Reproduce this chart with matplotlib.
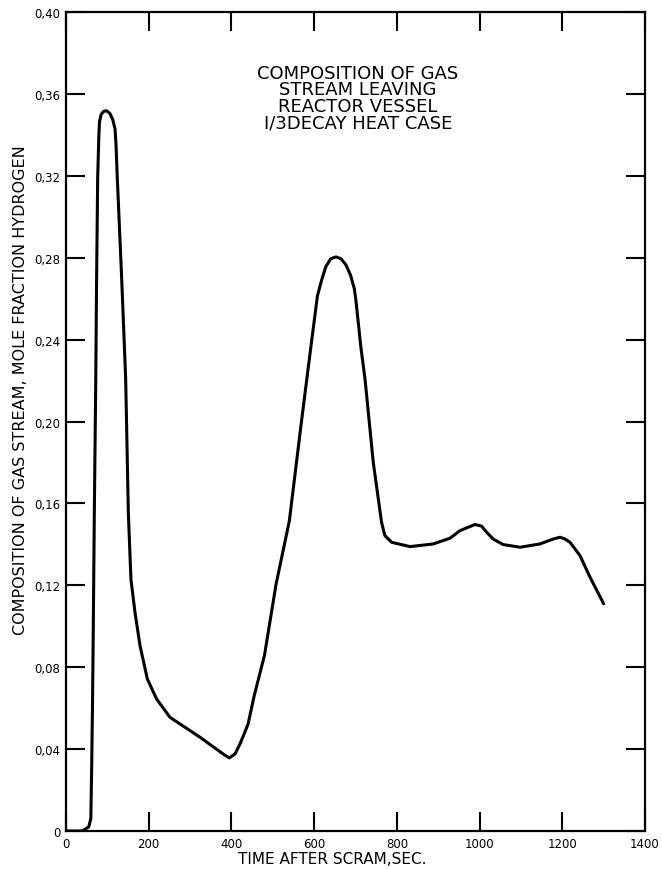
import numpy as np
import matplotlib.pyplot as plt

# hydrogen mole fraction in the gas stream leaving the vessel, 1/3 decay heat case
time_s = [0, 40, 55, 60, 62, 64, 66, 68.5, 72, 74, 76.6, 79.5, 81, 85, 91, 98,
          106, 113, 118.5, 121, 124, 134.6, 144.3, 150.7, 157, 166.8, 179,
          196.6, 219, 251.5, 324, 380, 395, 408.6, 420.7, 440, 455, 480, 508,
          540, 568, 592, 608, 618, 628, 640, 653, 665, 677, 688, 697, 701, 713,
          723, 743, 763, 771, 787.5, 832, 888, 928.5, 952.7, 976.8, 989, 1005,
          1017, 1033, 1057, 1098, 1146, 1178, 1194.5, 1206.6, 1218.7, 1242.8,
          1267, 1300]
h2_frac = [0.0, 0.0, 0.002, 0.006, 0.03, 0.06, 0.10, 0.156, 0.221, 0.27, 0.319,
           0.340, 0.3465, 0.3500, 0.3515, 0.3518, 0.3505, 0.3475, 0.343, 0.335,
           0.319, 0.27, 0.2208, 0.1557, 0.123, 0.1068, 0.0905, 0.0743, 0.0645,
           0.0555, 0.0458, 0.0376, 0.0357, 0.0376, 0.0425, 0.052, 0.066, 0.0859,
           0.1206, 0.1514, 0.1978, 0.2363, 0.2614, 0.269, 0.2755, 0.2795,
           0.2804, 0.2795, 0.2765, 0.2715, 0.265, 0.2592, 0.2363, 0.2208, 0.180,
           0.1508, 0.1443, 0.141, 0.1389, 0.1402, 0.143, 0.1467, 0.1487, 0.1497,
           0.1489, 0.1459, 0.1426, 0.1399, 0.1386, 0.1402, 0.1426, 0.1435,
           0.1426, 0.141, 0.1345, 0.124, 0.111]

x_ticks = [0, 200, 400, 600, 800, 1000, 1200, 1400]
y_ticks = [0, 0.04, 0.08, 0.12, 0.16, 0.20, 0.24, 0.28, 0.32, 0.36, 0.40]
y_labels = ["0", "0,04", "0,08", "0,12", "0,16", "0,20", "0,24", "0,28",
            "0,32", "0,36", "0,40"]

fig = plt.figure(figsize=(6.62, 8.70), dpi=100)
ax = fig.add_axes([0.0997, 0.0437, 0.8746, 0.9413])

ax.plot(time_s, h2_frac, color="black", lw=2.2, solid_capstyle="round",
        solid_joinstyle="round")

ax.set_xlim(0, 1400)
ax.set_ylim(0, 0.40)
ax.set_xticks(x_ticks)
ax.set_xticklabels([str(t) for t in x_ticks])
ax.set_yticks(y_ticks)
ax.set_yticklabels(y_labels)

ax.tick_params(direction="in", length=14, width=1.5, top=True, right=True,
               labelsize=8.5, pad=4)
for s in ax.spines.values():
    s.set_linewidth(1.6)

ax.set_xlabel("TIME AFTER SCRAM,SEC.", fontsize=11)
ax.xaxis.set_label_coords(0.459, -0.024)
ax.set_ylabel("COMPOSITION OF GAS STREAM, MOLE FRACTION HYDROGEN", fontsize=11.5)
ax.yaxis.set_label_coords(-0.066, 0.539)

ax.text(0.504, 0.937,
        "COMPOSITION OF GAS\nSTREAM LEAVING\nREACTOR VESSEL\nI/3DECAY HEAT CASE",
        transform=ax.transAxes, ha="center", va="top", fontsize=13,
        linespacing=0.9, multialignment="center")

fig.savefig("out.png", dpi=100)
